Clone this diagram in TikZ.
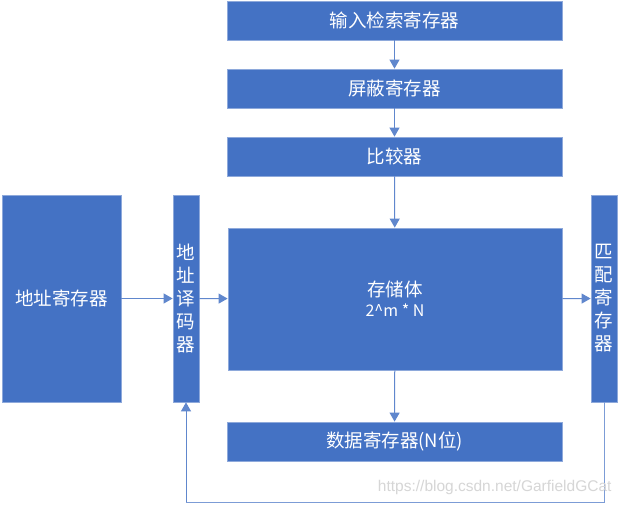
\documentclass[tikz,border=0pt]{standalone}
\usepackage{fontspec}
\setmainfont{Noto Sans CJK SC}
\newfontfamily\wmfont{Liberation Sans}
\usetikzlibrary{arrows.meta}
\definecolor{boxblue}{HTML}{4472C4}
\definecolor{boxedge}{HTML}{8EA9DB}
\definecolor{wmgray}{HTML}{D6D6D6}
\begin{document}
\begin{tikzpicture}[x=1pt,y=-1pt,
  blk/.style={fill=boxblue,draw=boxedge,line width=0.8pt,text=white,font=\fontsize{18.5}{23}\selectfont,inner sep=0pt,align=center},
  conn/.style={draw=boxblue!85!white,line width=1pt,-{Triangle[width=10pt,length=9pt]}},
  plain/.style={draw=boxblue!70!white,line width=1pt}]
\useasboundingbox[fill=white] (0,0) rectangle (626,505);
% top chain
\node[blk,minimum width=335,minimum height=39] (in) at (394.5,20.5) {输入检索寄存器};
\node[blk,minimum width=335,minimum height=39] (mask) at (394.5,88.5) {屏蔽寄存器};
\node[blk,minimum width=335,minimum height=39] (cmp) at (394.5,156.5) {比较器};
% storage
\node[blk,minimum width=334,minimum height=142] (mem) at (395,299) {存储体\\[-3pt]{\fontsize{16}{18}\selectfont 2\textasciicircum m * N}};
% left
\node[blk,minimum width=119,minimum height=207] (addr) at (61.5,298.5) {地址寄存器};
\node[blk,minimum width=26,minimum height=207] (dec) at (186,298.5) {地\\址\\译\\码\\器};
% right
\node[blk,minimum width=26,minimum height=207] (match) at (604,298.5) {匹\\配\\寄\\存\\器};
% data
\node[blk,minimum width=335,minimum height=39] (data) at (394.5,441.5) {数据寄存器(N位)};
% arrows
\draw[conn] (in) -- (mask);
\draw[conn] (mask) -- (cmp);
\draw[conn] (cmp) -- (mem);
\draw[conn] (mem) -- (data);
\draw[conn] (addr) -- (dec);
\draw[conn] (dec) -- (mem);
\draw[conn] (mem) -- (match);
% feedback
\coordinate (c1) at (604,502);
\coordinate (c2) at (186,502);
\draw[plain] (match.south) -- (c1) -- (c2);
\draw[conn] (c2) -- (dec.south);
% watermark
\node[text=wmgray,font=\wmfont\fontsize{15.5}{17}\selectfont,anchor=east] (wm) at (615,487) {https://blog.csdn.net/GarfieldGCat};
\end{tikzpicture}
\end{document}
